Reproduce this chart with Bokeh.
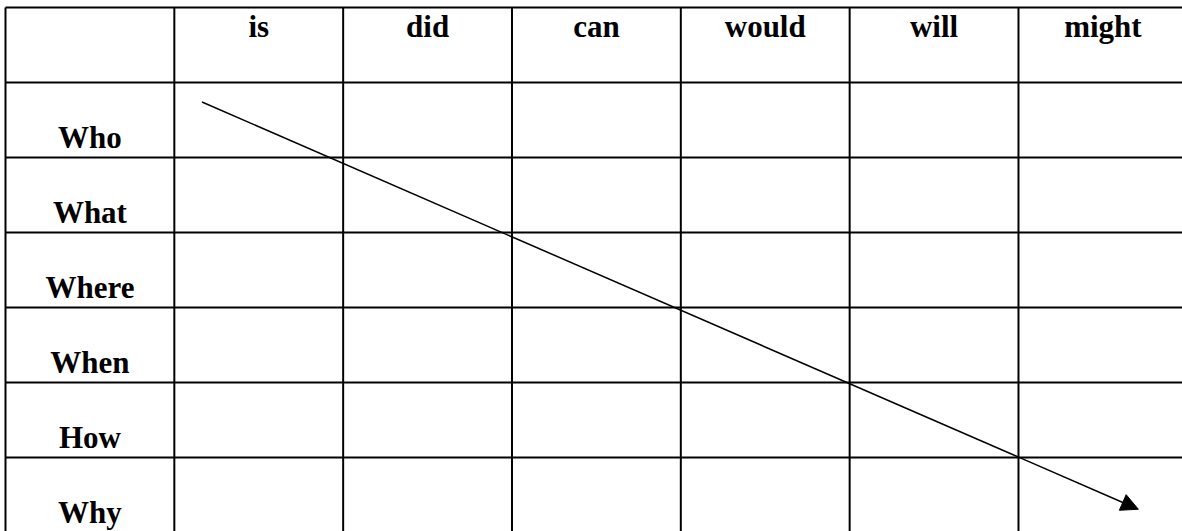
from bokeh.plotting import figure
from bokeh.models import Range1d, Arrow, NormalHead, ColumnDataSource
from bokeh.core.properties import value
from bokeh.embed import file_html
from bokeh.resources import INLINE

# ---- data ----
col_labels = ["", "is", "did", "can", "would", "will", "might"]
row_labels = ["Who", "What", "Where", "When", "How", "Why"]
# arrow in table units (column index from left, row index from top)
arrow_start = (1.164, 1.26)
arrow_end = (6.71, 6.69)

n_cols = len(col_labels)
n_rows = len(row_labels) + 1  # header + rows

W, H = 1182, 531
sx = 168.83   # px per column
sy = 75.0     # px per row
x0 = -5.0 / sx
y_top = -7.0 / sy

p = figure(width=W, height=H, output_backend="svg", toolbar_location=None,
           x_range=Range1d(x0, x0 + W / sx),
           y_range=Range1d(y_top + H / sy, y_top),
           x_axis_type=None, y_axis_type=None, min_border=0,
           background_fill_color="white", border_fill_color="white")
p.outline_line_color = None
p.grid.visible = False

# grid lines
vx = list(range(n_cols + 1))
p.segment(x0=vx, x1=vx, y0=[0] * len(vx), y1=[n_rows] * len(vx),
          line_color="black", line_width=2)
hy = list(range(n_rows + 1))
p.segment(x0=[0] * len(hy), x1=[n_cols] * len(hy), y0=hy, y1=hy,
          line_color="black", line_width=2)

font = value("Liberation Serif")
shift = 12.0 / sy  # compensation for svg baseline placement

# header labels
hdr = ColumnDataSource(dict(x=[i + 0.5 for i in range(n_cols)],
                            y=[31.0 / sy - shift] * n_cols, t=col_labels))
p.text(x="x", y="y", text="t", source=hdr, text_font=font,
       text_font_style="bold", text_font_size="31px", text_align="center",
       text_baseline="alphabetic", text_color="black")

# row labels
rows = ColumnDataSource(dict(x=[0.5] * len(row_labels),
                             y=[k + 2 - 8.0 / sy - shift for k in range(len(row_labels))],
                             t=row_labels))
p.text(x="x", y="y", text="t", source=rows, text_font=font,
       text_font_style="bold", text_font_size="31px", text_align="center",
       text_baseline="alphabetic", text_color="black")

# arrow
p.add_layout(Arrow(end=NormalHead(size=17, fill_color="black", line_color="black"),
                   x_start=arrow_start[0], y_start=arrow_start[1],
                   x_end=arrow_end[0], y_end=arrow_end[1],
                   line_color="black", line_width=1.5))

open("out.html", "w").write(file_html(p, INLINE))
